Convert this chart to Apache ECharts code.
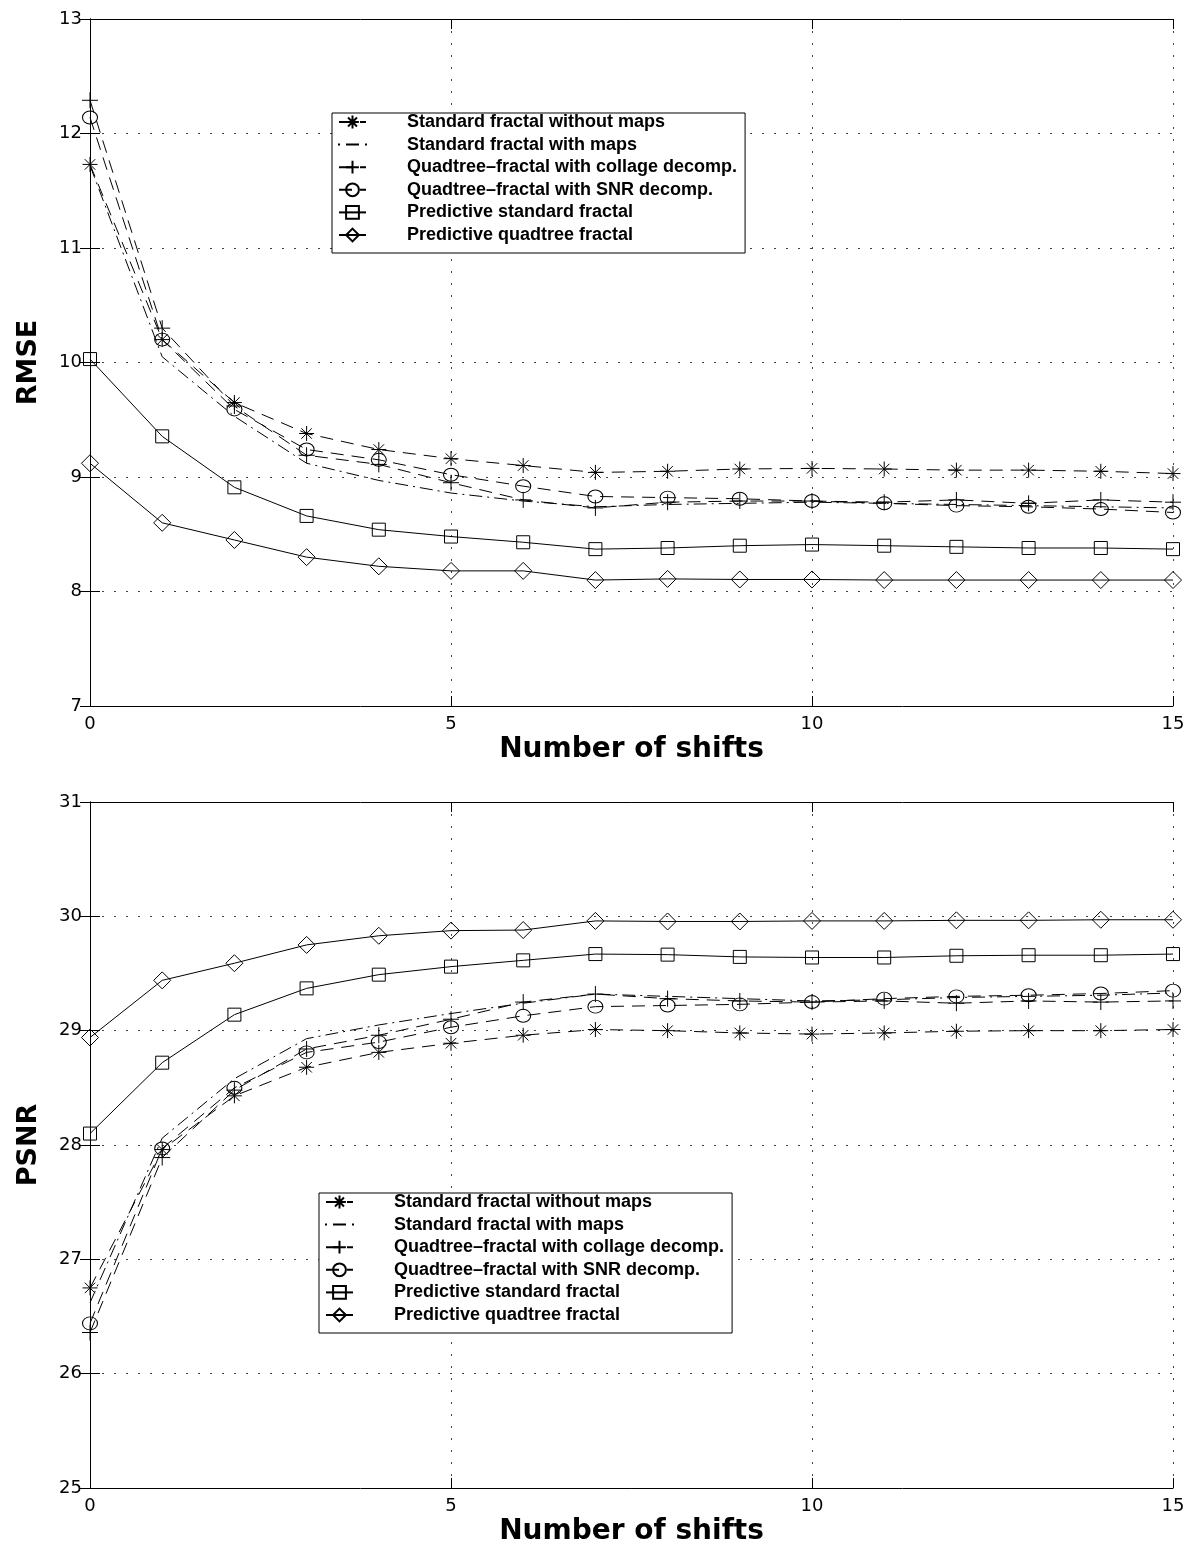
<!DOCTYPE html>
<html>
<head>
<meta charset="utf-8">
<title>RMSE and PSNR vs number of shifts</title>
<script src="https://cdn.jsdelivr.net/npm/echarts@6/dist/echarts.min.js"></script>
<style>
  html, body { margin: 0; padding: 0; background: #fff; }
  #chart { width: 1190px; height: 1547px; }
</style>
</head>
<body>
<div id="chart"></div>
<script>
// Number of shifts (x axis, shared by both panels)
const shifts = [0, 1, 2, 3, 4, 5, 6, 7, 8, 9, 10, 11, 12, 13, 14, 15];

const seriesNames = [
  'Standard fractal without maps',
  'Standard fractal with maps',
  'Quadtree\u2013fractal with collage decomp.',
  'Quadtree\u2013fractal with SNR decomp.',
  'Predictive standard fractal',
  'Predictive quadtree fractal'
];

// RMSE panel
const rmseStdNoMaps   = [11.73, 10.20, 9.65, 9.38, 9.24, 9.16, 9.10, 9.04, 9.05, 9.07, 9.075, 9.07, 9.06, 9.06, 9.05, 9.03];
const rmseStdMaps     = [11.72, 10.05, 9.53, 9.12, 8.97, 8.86, 8.79, 8.74, 8.76, 8.77, 8.78, 8.77, 8.76, 8.75, 8.74, 8.73];
const rmseQuadCollage = [12.29, 10.30, 9.62, 9.19, 9.11, 8.95, 8.80, 8.73, 8.78, 8.79, 8.79, 8.78, 8.80, 8.77, 8.80, 8.78];
const rmseQuadSnr     = [12.14, 10.20, 9.59, 9.24, 9.15, 9.02, 8.92, 8.83, 8.82, 8.81, 8.79, 8.77, 8.75, 8.74, 8.72, 8.69];
const rmsePredStd     = [10.03, 9.355, 8.91, 8.66, 8.54, 8.48, 8.43, 8.37, 8.38, 8.40, 8.41, 8.40, 8.39, 8.38, 8.38, 8.37];
const rmsePredQuad    = [9.12, 8.60, 8.45, 8.30, 8.22, 8.18, 8.18, 8.10, 8.11, 8.105, 8.105, 8.10, 8.10, 8.10, 8.10, 8.10];

// PSNR panel
const psnrStdNoMaps   = [26.75, 27.96, 28.43, 28.68, 28.81, 28.89, 28.96, 29.01, 29.00, 28.98, 28.97, 28.98, 28.995, 29.00, 29.00, 29.01];
const psnrStdMaps     = [26.62, 28.06, 28.58, 28.93, 29.05, 29.15, 29.24, 29.32, 29.30, 29.28, 29.26, 29.27, 29.29, 29.30, 29.31, 29.33];
const psnrQuadCollage = [26.36, 27.89, 28.48, 28.84, 28.96, 29.10, 29.25, 29.32, 29.28, 29.26, 29.25, 29.26, 29.24, 29.26, 29.25, 29.26];
const psnrQuadSnr     = [26.44, 27.97, 28.50, 28.81, 28.90, 29.03, 29.13, 29.21, 29.22, 29.23, 29.25, 29.28, 29.30, 29.31, 29.325, 29.35];
const psnrPredStd     = [28.10, 28.72, 29.14, 29.37, 29.49, 29.56, 29.615, 29.67, 29.665, 29.645, 29.64, 29.64, 29.655, 29.66, 29.66, 29.67];
const psnrPredQuad    = [28.94, 29.44, 29.59, 29.75, 29.83, 29.875, 29.88, 29.96, 29.955, 29.955, 29.96, 29.96, 29.965, 29.965, 29.97, 29.97];

// Axis tick settings
const xTicks = { min: 0, max: 15, interval: 5 };
const rmseTicks = { min: 7, max: 13, interval: 1 };
const psnrTicks = { min: 25, max: 31, interval: 1 };

const FONT = 'DejaVu Sans';
const LEGEND_FONT = 'Liberation Sans';
const INK = '#000';

// Marker shapes drawn as outlines
const ASTERISK = 'path://M10,0 L10,20 M0,10 L20,10 M3,3 L17,17 M17,3 L3,17';
const PLUS = 'path://M10,0 L10,20 M0,10 L20,10';
// Legend sample for the dash-dot series (dot, dash, dot)
const DASHDOT_ICON = 'path://M0,4 L0,6 M7,5 L20,5 M27,4 L27,6';

const styles = [
  { symbol: ASTERISK, symbolSize: 15, dash: [13, 8] },
  { symbol: 'none', symbolSize: 0, dash: [13, 5, 2, 5] },
  { symbol: PLUS, symbolSize: 16, dash: [13, 8] },
  { symbol: 'circle', symbolSize: [15, 13], dash: [13, 8] },
  { symbol: 'rect', symbolSize: 13, dash: 'solid' },
  { symbol: 'diamond', symbolSize: 17, dash: 'solid' }
];

function makeSeries(values, idx, axisIdx) {
  const st = styles[idx];
  return {
    name: seriesNames[idx],
    type: 'line',
    xAxisIndex: axisIdx,
    yAxisIndex: axisIdx,
    data: shifts.map((x, i) => [x, values[i]]),
    symbol: st.symbol,
    symbolSize: st.symbolSize,
    showSymbol: st.symbol !== 'none',
    lineStyle: { color: INK, width: 1, type: st.dash },
    itemStyle: { color: 'transparent', borderColor: INK, borderWidth: 1 },
    emphasis: { disabled: true },
    silent: true,
    animation: false,
    z: 3
  };
}

function mainX(gridIndex) {
  return {
    type: 'value', gridIndex, ...xTicks,
    name: 'Number of shifts', nameLocation: 'middle', nameGap: 30,
    nameTextStyle: { fontFamily: FONT, fontWeight: 'bold', fontSize: 28, color: INK },
    axisLine: { lineStyle: { color: INK, width: 1 } },
    axisTick: { inside: true, length: 10, lineStyle: { color: INK } },
    axisLabel: { fontFamily: FONT, fontSize: 18, color: INK, margin: 9 },
    splitLine: { show: true, lineStyle: { color: '#444', width: 1, type: [2, 10] } }
  };
}
function topX(gridIndex) {
  return {
    type: 'value', gridIndex, position: 'top', ...xTicks,
    axisLine: { lineStyle: { color: INK, width: 1 } },
    axisTick: { inside: true, length: 10, lineStyle: { color: INK } },
    axisLabel: { show: false },
    splitLine: { show: false }
  };
}
function mainY(gridIndex, ticks, title) {
  return {
    type: 'value', gridIndex, ...ticks,
    name: title, nameLocation: 'middle', nameGap: 48,
    nameTextStyle: { fontFamily: FONT, fontWeight: 'bold', fontSize: 27, color: INK },
    axisLine: { show: true, lineStyle: { color: INK, width: 1 } },
    axisTick: { show: true, inside: true, length: 10, lineStyle: { color: INK } },
    axisLabel: { fontFamily: FONT, fontSize: 18, color: INK, margin: 8 },
    splitLine: { show: true, lineStyle: { color: '#444', width: 1, type: [2, 10] } }
  };
}
function rightY(gridIndex, ticks) {
  return {
    type: 'value', gridIndex, position: 'right', ...ticks,
    axisLine: { show: true, lineStyle: { color: INK, width: 1 } },
    axisTick: { show: true, inside: true, length: 10, lineStyle: { color: INK } },
    axisLabel: { show: false },
    splitLine: { show: false }
  };
}
function makeLegend(left, top) {
  return {
    show: true, orient: 'vertical', left, top,
    data: seriesNames.map((n, i) => (i === 1 ? { name: n, icon: DASHDOT_ICON } : n)),
    selectedMode: false,
    itemWidth: 27, itemHeight: 16, itemGap: 4.6,
    backgroundColor: '#fff', borderColor: INK, borderWidth: 1,
    padding: [0, 8, 9, 6],
    textStyle: { fontFamily: LEGEND_FONT, fontWeight: 'bold', fontSize: 18, lineHeight: 18, color: INK, padding: [0, 0, 0, 36] },
    z: 10
  };
}

const rmseSets = [rmseStdNoMaps, rmseStdMaps, rmseQuadCollage, rmseQuadSnr, rmsePredStd, rmsePredQuad];
const psnrSets = [psnrStdNoMaps, psnrStdMaps, psnrQuadCollage, psnrQuadSnr, psnrPredStd, psnrPredQuad];

const option = {
  animation: false,
  backgroundColor: '#fff',
  grid: [
    { left: 90, top: 19, width: 1083, height: 687 },
    { left: 90, top: 802, width: 1083, height: 687 }
  ],
  xAxis: [mainX(0), mainX(1), topX(0), topX(1)],
  yAxis: [mainY(0, rmseTicks, 'RMSE'), mainY(1, psnrTicks, 'PSNR'), rightY(0, rmseTicks), rightY(1, psnrTicks)],
  legend: [makeLegend(332, 113), makeLegend(319, 1193)],
  series: [
    ...rmseSets.map((v, i) => makeSeries(v, i, 0)),
    ...psnrSets.map((v, i) => makeSeries(v, i, 1))
  ]
};

const chart = echarts.init(document.getElementById('chart'), null, { renderer: 'canvas' });
chart.setOption(option);
</script>
</body>
</html>
